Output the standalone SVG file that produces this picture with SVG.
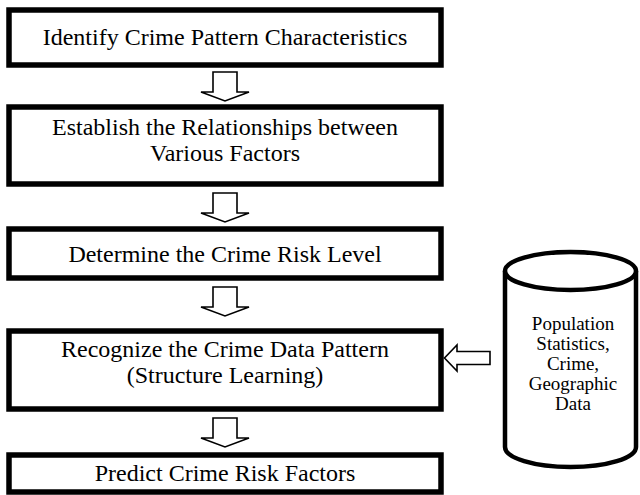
<svg xmlns="http://www.w3.org/2000/svg" width="640" height="495" viewBox="0 0 640 495">
<style>
.box{fill:#fff;stroke:#000;stroke-width:5.5}
.t{font-family:"Liberation Serif","Times New Roman",serif;font-size:24px;fill:#000;text-anchor:middle}
.ct{font-family:"Liberation Serif","Times New Roman",serif;font-size:19px;fill:#000;text-anchor:middle}
.arr{fill:#fff;stroke:#000;stroke-width:1.6;stroke-linejoin:miter}
.cyl{fill:#fff;stroke:#000;stroke-width:4.5}
</style>
<rect width="640" height="495" fill="#fff"/>
<g id="n1"><rect class="box" x="9" y="10" width="432" height="55"/><text class="t" x="225" y="45">Identify Crime Pattern Characteristics</text></g>
<g id="n2"><rect class="box" x="9" y="107" width="432" height="77"/><text class="t" x="225" y="135">Establish the Relationships between</text><text class="t" x="225" y="161">Various Factors</text></g>
<g id="n3"><rect class="box" x="9" y="229" width="432" height="49"/><text class="t" x="225" y="262">Determine the Crime Risk Level</text></g>
<g id="n4"><rect class="box" x="9" y="331" width="432" height="78"/><text class="t" x="225" y="357">Recognize the Crime Data Pattern</text><text class="t" x="225" y="383">(Structure Learning)</text></g>
<g id="n5"><rect class="box" x="9" y="455" width="432" height="37"/><text class="t" x="225" y="481">Predict Crime Risk Factors</text></g>
<g id="db">
<path class="cyl" d="M505,271 L505,447 A65.5,20 0 0 0 636,447 L636,271"/>
<ellipse class="cyl" cx="570.5" cy="271" rx="65.5" ry="19"/>
<text class="ct" x="573" y="330">Population</text>
<text class="ct" x="573" y="350">Statistics,</text>
<text class="ct" x="573" y="370">Crime,</text>
<text class="ct" x="573" y="390">Geographic</text>
<text class="ct" x="573" y="410">Data</text>
</g>
<g id="connectors">
<path class="arr" d="M213,72 L237,72 L237,92 L249,92 L225,101 L201,92 L213,92 Z"/>
<path class="arr" d="M213,193 L237,193 L237,213 L249,213 L225,222 L201,213 L213,213 Z"/>
<path class="arr" d="M213,287 L237,287 L237,307 L249,307 L225,316 L201,307 L213,307 Z"/>
<path class="arr" d="M213,418 L237,418 L237,438 L249,438 L225,447 L201,438 L213,438 Z"/>
<path class="arr" d="M490,351.5 L457,351.5 L457,345 L444.5,358 L457,371 L457,364.5 L490,364.5 Z"/>
</g>
</svg>
